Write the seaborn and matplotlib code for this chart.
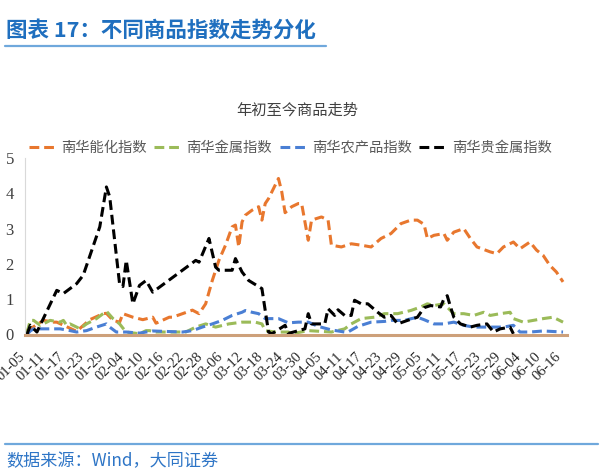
import matplotlib
matplotlib.use("Agg")
import matplotlib.pyplot as plt
import matplotlib.transforms as mtransforms
import seaborn as sns
import pandas as pd
from matplotlib.lines import Line2D

YEAR = "2021"

series_names = ["南华能化指数", "南华金属指数", "南华农产品指数", "南华贵金属指数"]
series_colors = ["#E8772E", "#9BBB59", "#4A7FD4", "#000000"]

energy_dates = ["01-05", "01-10", "01-13", "01-14", "01-20", "01-24", "01-28", "01-29", "01-31", "02-02",
                "02-03", "02-06", "02-09", "02-12", "02-13", "02-17", "02-18", "02-21", "02-24", "02-26",
                "02-28", "03-02", "03-04", "03-06", "03-08", "03-09", "03-10", "03-11", "03-12", "03-14",
                "03-16", "03-17", "03-18", "03-19", "03-20", "03-22", "03-23", "03-24", "03-26", "03-28",
                "03-29", "03-30", "03-31", "04-01", "04-04", "04-06", "04-07", "04-10", "04-13", "04-16",
                "04-19", "04-22", "04-25", "04-28", "05-01", "05-03", "05-05", "05-06", "05-08", "05-11",
                "05-12", "05-14", "05-17", "05-19", "05-21", "05-25", "05-27", "05-29", "06-01", "06-03",
                "06-06", "06-08", "06-10", "06-12", "06-14", "06-16"]
energy_vals = [0.10, 0.40, 0.35, 0.35, 0.09, 0.42, 0.59, 0.60, 0.40, 0.35,
               0.59, 0.49, 0.42, 0.49, 0.32, 0.49, 0.49, 0.59, 0.69, 0.59,
               0.87, 1.53, 2.10, 2.53, 3.05, 3.10, 2.48, 3.19, 3.38, 3.52,
               3.62, 3.24, 3.71, 3.85, 4.04, 4.42, 4.04, 3.45, 3.62, 3.71,
               3.71, 3.19, 2.67, 3.24, 3.33, 3.24, 2.53, 2.48, 2.57, 2.53,
               2.48, 2.72, 2.86, 3.14, 3.24, 3.24, 3.12, 2.72, 2.81, 2.86,
               2.67, 2.90, 3.00, 2.72, 2.48, 2.34, 2.29, 2.48, 2.62, 2.43,
               2.62, 2.39, 2.24, 1.96, 1.77, 1.49]

metal_dates = ["01-05", "01-06", "01-07", "01-09", "01-11", "01-12", "01-15", "01-16", "01-17", "01-18",
               "01-20", "01-21", "01-23", "01-24", "01-26", "01-29", "01-31", "02-02", "02-03", "02-04",
               "02-08", "02-10", "02-11", "02-13", "02-22", "02-25", "02-28", "03-03", "03-07", "03-11",
               "03-15", "03-17", "03-18", "03-21", "03-25", "03-26", "03-31", "04-07", "04-11", "04-13",
               "04-16", "04-20", "04-23", "04-27", "05-01", "05-04", "05-06", "05-08", "05-11", "05-13",
               "05-14", "05-17", "05-20", "05-23", "05-25", "05-28", "05-31", "06-01", "06-04", "06-07",
               "06-10", "06-13", "06-16"]
metal_vals = [0.05, 0.40, 0.40, 0.26, 0.35, 0.40, 0.35, 0.40, 0.26, 0.30,
              0.21, 0.16, 0.30, 0.35, 0.45, 0.66, 0.45, 0.30, 0.18, 0.07,
              0.02, 0.11, 0.11, 0.07, 0.07, 0.21, 0.30, 0.21, 0.30, 0.35,
              0.35, 0.30, 0.11, 0.07, 0.07, 0.02, 0.11, 0.07, 0.16, 0.30,
              0.45, 0.49, 0.59, 0.59, 0.68, 0.78, 0.87, 0.82, 0.87, 0.68,
              0.59, 0.59, 0.54, 0.63, 0.54, 0.59, 0.63, 0.45, 0.35, 0.40,
              0.45, 0.49, 0.35]

agri_dates = ["01-05", "01-06", "01-07", "01-11", "01-15", "01-18", "01-20", "01-23", "01-26", "01-29",
              "01-30", "02-01", "02-04", "02-08", "02-12", "02-21", "02-24", "02-27", "03-02", "03-05",
              "03-08", "03-11", "03-12", "03-14", "03-16", "03-18", "03-22", "03-25", "03-28", "03-31",
              "04-03", "04-07", "04-11", "04-12", "04-15", "04-19", "04-23", "04-25", "04-29", "05-03",
              "05-05", "05-08", "05-11", "05-14", "05-17", "05-20", "05-25", "05-29", "06-01", "06-03",
              "06-06", "06-10", "06-16"]
agri_vals = [0.00, 0.10, 0.16, 0.16, 0.16, 0.11, 0.07, 0.11, 0.21, 0.30,
             0.21, 0.07, 0.07, 0.04, 0.10, 0.07, 0.11, 0.21, 0.30, 0.40,
             0.54, 0.63, 0.68, 0.63, 0.59, 0.45, 0.45, 0.33, 0.35, 0.35,
             0.23, 0.13, 0.07, 0.07, 0.23, 0.35, 0.37, 0.40, 0.40, 0.49,
             0.42, 0.30, 0.30, 0.35, 0.26, 0.21, 0.21, 0.21, 0.26, 0.07,
             0.07, 0.10, 0.07]

precious_dates = ["01-05", "01-06", "01-08", "01-14", "01-16", "01-20", "01-22", "01-27", "01-29", "01-30",
                  "02-02", "02-03", "02-04", "02-06", "02-08", "02-10", "02-12", "02-23", "02-25", "02-26",
                  "03-01", "03-03", "03-04", "03-08", "03-09", "03-11", "03-13", "03-17", "03-18", "03-19",
                  "03-20", "03-24", "03-25", "03-30", "03-31", "04-01", "04-05", "04-06", "04-08", "04-09",
                  "04-11", "04-13", "04-14", "04-16", "04-18", "04-21", "04-23", "04-25", "04-27", "04-30",
                  "05-03", "05-05", "05-07", "05-10", "05-11", "05-12", "05-13", "05-14", "05-16", "05-19",
                  "05-21", "05-24", "05-26", "05-28", "05-31", "06-01"]
precious_vals = [0.00, 0.26, 0.07, 1.25, 1.16, 1.44, 1.68, 3.05, 4.18, 3.90,
                 1.42, 1.36, 2.10, 0.87, 1.39, 1.53, 1.20, 1.96, 2.10, 2.05,
                 2.72, 1.91, 1.82, 1.82, 2.15, 1.77, 1.53, 1.30, 0.68, 0.07,
                 0.02, 0.26, 0.03, 0.16, 0.59, 0.30, 0.30, 0.73, 0.54, 0.70,
                 0.54, 0.54, 0.97, 0.87, 0.87, 0.63, 0.49, 0.54, 0.30, 0.40,
                 0.49, 0.76, 0.82, 0.78, 1.01, 1.10, 0.78, 0.49, 0.30, 0.21,
                 0.26, 0.30, 0.07, 0.16, 0.21, 0.02]

tick_start = "01-05"
tick_end = "06-16"
y_ticks = [0, 1, 2, 3, 4, 5]

frames = []
for name, d, v in zip(series_names,
                      [energy_dates, metal_dates, agri_dates, precious_dates],
                      [energy_vals, metal_vals, agri_vals, precious_vals]):
    frames.append(pd.DataFrame({"date": pd.to_datetime([f"{YEAR}-{s}" for s in d]),
                                "value": v, "series": name}))
df = pd.concat(frames, ignore_index=True)

sns.set_theme(style="white")
plt.rcParams["font.family"] = ["Noto Sans CJK SC", "DejaVu Sans"]

W, H = 602, 475
fig = plt.figure(figsize=(W / 100, H / 100), dpi=100)
ax = fig.add_axes([25 / W, (H - 334.5) / H, (567 - 25) / W, (334.5 - 158) / H])

dash = (0, (3.2, 1.6))
for name, col in zip(series_names, series_colors):
    sub = df[df["series"] == name]
    sns.lineplot(data=sub, x="date", y="value", ax=ax, color=col, lw=2.2,
                 linestyle=dash, legend=False)

t0 = pd.Timestamp(f"{YEAR}-{tick_start}")
t1 = pd.Timestamp(f"{YEAR}-{tick_end}")
ax.set_xlim(t0 - pd.Timedelta(days=0.6), t1 + pd.Timedelta(days=1.2))
ax.set_ylim(0, 5)
ax.tick_params(axis="both", length=0)
ax.tick_params(axis="x", pad=11)
ax.tick_params(axis="y", pad=8)
ticks = pd.date_range(t0, t1, freq="6D")
ax.set_xticks(ticks)
ax.set_xticklabels([t.strftime("%m-%d") for t in ticks], rotation=45, ha="right",
                   rotation_mode="anchor")
ax.set_yticks(y_ticks)
ax.set_yticklabels([str(v) for v in y_ticks])
shift = mtransforms.ScaledTranslation(-9 / 100, 0, fig.dpi_scale_trans)
for lab in ax.get_xticklabels():
    lab.set_fontfamily(["Liberation Serif"])
    lab.set_fontsize(10.5)
    lab.set_color("#262626")
    lab.set_transform(lab.get_transform() + shift)
for lab in ax.get_yticklabels():
    lab.set_fontfamily(["Liberation Serif"])
    lab.set_fontsize(12)
    lab.set_color("#404040")
ax.set_xlabel("")
ax.set_ylabel("")
for s in ["top", "right"]:
    ax.spines[s].set_visible(False)
ax.spines["left"].set_color("#D9D9D9")
ax.spines["left"].set_linewidth(0.8)
ax.spines["bottom"].set_color("#CDA07A")
ax.spines["bottom"].set_linewidth(2.2)
ax.patch.set_alpha(0)

handles = [Line2D([0], [0], color=c, lw=2.2, linestyle=dash) for c in series_colors]
fig.legend(handles, series_names, loc="center", bbox_to_anchor=(290 / W, 1 - 148 / H),
           ncol=4, frameon=False, fontsize=10.3, handlelength=1.95, handletextpad=0.3,
           columnspacing=0.55, labelcolor="#595959")

fig.text(297 / W, 1 - 110 / H, "年初至今商品走势", ha="center", va="center",
         fontsize=11, color="#404040")

fig.text(6 / W, 1 - 30 / H, "图表 17：不同商品指数走势分化", ha="left", va="center",
         fontsize=15.5, fontweight="bold", color="#1F6FBF")
fig.add_artist(Line2D([5 / W, 326 / W], [1 - 46 / H, 1 - 46 / H], color="#6FA8DC", lw=1.6))
fig.add_artist(Line2D([5 / W, 598 / W], [1 - 444 / H, 1 - 444 / H], color="#6FA8DC", lw=1.6))
fig.text(6 / W, 1 - 461 / H, "数据来源：Wind，大同证券", ha="left", va="center",
         fontsize=12.3, color="#2E75C6", style="italic")

fig.savefig("out.png", dpi=100, facecolor="white")
